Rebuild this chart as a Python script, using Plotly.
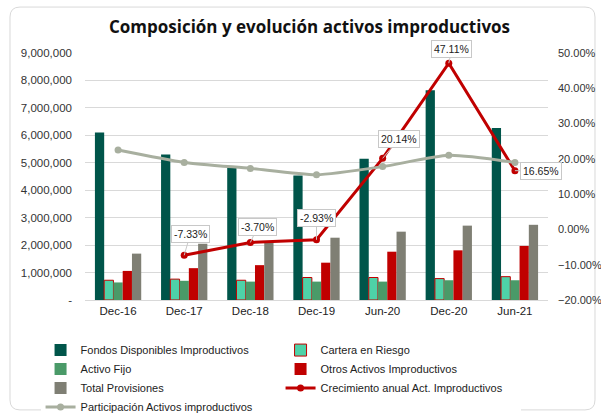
import plotly.graph_objects as go

# Data
periods = ["Dec-16", "Dec-17", "Dec-18", "Dec-19", "Jun-20", "Dec-20", "Jun-21"]
fondos = [6100000, 5300000, 4880000, 4540000, 5150000, 7640000, 6270000]
cartera = [720000, 760000, 720000, 820000, 820000, 780000, 850000]
activo_fijo = [640000, 700000, 670000, 670000, 670000, 720000, 720000]
otros = [1060000, 1160000, 1270000, 1360000, 1760000, 1810000, 1970000]
provisiones = [1690000, 2050000, 2150000, 2270000, 2490000, 2710000, 2740000]
crecimiento = [None, -0.0733, -0.0370, -0.0293, 0.2014, 0.4711, 0.1665]
participacion = [0.225, 0.190, 0.173, 0.155, 0.178, 0.210, 0.190]

left_ticks = [0, 1000000, 2000000, 3000000, 4000000, 5000000, 6000000, 7000000, 8000000, 9000000]
left_text = ["-"] + [f"{v:,}" for v in left_ticks[1:]]
right_ticks = [-0.2, -0.1, 0.0, 0.1, 0.2, 0.3, 0.4, 0.5]

RED = "#C00000"
FONT = "Liberation Sans"

fig = go.Figure()

bars = [
    ("Fondos Disponibles Improductivos", fondos, "#00554A", "#00554A"),
    ("Cartera en Riesgo", cartera, "#4ED2A8", RED),
    ("Activo Fijo", activo_fijo, "#4A9A68", "#4A9A68"),
    ("Otros Activos Improductivos", otros, RED, RED),
    ("Total Provisiones", provisiones, "#7F7F74", "#7F7F74"),
]
for name, vals, col, line_col in bars:
    fig.add_trace(go.Bar(
        x=periods, y=vals, name=name,
        marker=dict(color=col, line=dict(color=line_col, width=1 if line_col != col else 0)),
        yaxis="y",
    ))

fig.add_trace(go.Scatter(
    x=periods, y=crecimiento, name="Crecimiento anual Act. Improductivos",
    mode="lines+markers", yaxis="y2",
    line=dict(color=RED, width=3), marker=dict(color=RED, size=7),
))
fig.add_trace(go.Scatter(
    x=periods, y=participacion, name="Participación Activos improductivos",
    mode="lines+markers", yaxis="y2",
    line=dict(color="#A8AF9F", width=3, shape="spline", smoothing=0.6),
    marker=dict(color="#A8AF9F", size=7),
))

# data labels for the growth line
label_offsets = {1: (6, -21), 2: (7, -15), 3: (0, -22), 4: (16, -19), 5: (3, -14), 6: (26, 0)}
for i, (ax, ay) in label_offsets.items():
    fig.add_annotation(
        x=periods[i], y=crecimiento[i], yref="y2",
        text=f"{crecimiento[i]*100:.2f}%",
        showarrow=True, arrowhead=0, arrowcolor="#C8C8C8", arrowwidth=1,
        ax=ax, ay=ay, bgcolor="white", bordercolor="#C8C8C8", borderwidth=1, borderpad=2,
        font=dict(family=FONT, size=10.5, color="#222"),
    )

# rounded chart border
x0, x1, y0, y1 = -0.162, 1.1015, -0.445, 1.186
rx, ry = 10 / 463, 10 / 247
path = (f"M {x0+rx},{y1} L {x1-rx},{y1} Q {x1},{y1} {x1},{y1-ry} "
        f"L {x1},{y0+ry} Q {x1},{y0} {x1-rx},{y0} L {x0+rx},{y0} "
        f"Q {x0},{y0} {x0},{y0+ry} L {x0},{y1-ry} Q {x0},{y1} {x0+rx},{y1} Z")
fig.add_shape(type="path", path=path, xref="paper", yref="paper",
              line=dict(color="#D9D9D9", width=1), layer="below")

fig.update_layout(
    width=601, height=414, autosize=False,
    margin=dict(l=85, r=53, t=53, b=114, autoexpand=False),
    paper_bgcolor="white", plot_bgcolor="white",
    title=dict(text="<b>Composición y evolución activos improductivos</b>",
               x=0.515, xanchor="center", y=0.935, yanchor="middle",
               font=dict(family="Open Sans", size=17, color="#111")),
    barmode="group", bargap=0.3, bargroupgap=0,
    font=dict(family=FONT, size=11, color="#333"),
    xaxis=dict(range=[-0.5, len(periods) - 0.5], showgrid=False, showline=True,
               linecolor="#D9D9D9", ticks="",
               tickfont=dict(family=FONT, size=11.5, color="#222")),
    yaxis=dict(range=[0, 9000000], tickvals=left_ticks, ticktext=left_text,
               showgrid=True, gridcolor="#D9D9D9", zeroline=False, ticks="",
               ticklabelstandoff=12, automargin=False,
               tickfont=dict(family=FONT, size=11.5, color="#333")),
    yaxis2=dict(range=[-0.2, 0.5], tickvals=right_ticks, tickformat=".2%",
                overlaying="y", side="right", showgrid=False, zeroline=False,
                ticklabelstandoff=9, automargin=False,
                tickfont=dict(family=FONT, size=11, color="#333")),
    showlegend=True,
    legend=dict(orientation="h", x=-0.096, xanchor="left", y=-0.144, yanchor="top",
                entrywidth=195, entrywidthmode="pixels", traceorder="normal",
                font=dict(family=FONT, size=11, color="#222"),
                itemwidth=30, tracegroupgap=0),
)

fig.write_html("out.html", config={"displayModeBar": False, "responsive": False},
               post_script="document.body.style.margin='0';document.body.style.overflow='hidden';")
